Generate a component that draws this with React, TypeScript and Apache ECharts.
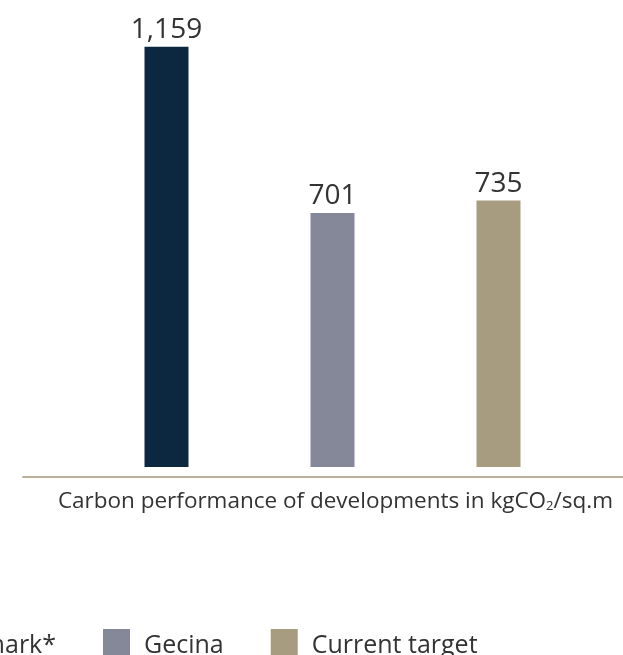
import React, { useEffect, useRef } from "react";
import * as echarts from "echarts";

// Carbon performance of developments (kgCO2/sq.m)
const categories = ["Benchmark*", "Gecina", "Current target"];
const values = [1159, 701, 735];
const colors = ["#0b2840", "#858899", "#a89c80"];
const axisTitle = "Carbon performance of developments in kgCO";

const FONT = "'Open Sans', sans-serif";
const TEXT = "#333";

function measure(text: string, size: number): number {
  const c = document.createElement("canvas").getContext("2d");
  if (!c) return text.length * size * 0.55;
  c.font = `${size}px ${FONT}`;
  return c.measureText(text).width;
}

export default function App() {
  const ref = useRef<HTMLDivElement>(null);

  useEffect(() => {
    if (!ref.current) return;
    const chart = echarts.init(ref.current, null, { renderer: "svg" });

    const legendSize = 25;
    const swatch = 27;
    const textGap = 14;
    const itemGap = 47;
    // anchor the second legend swatch at x = 103
    const firstW = measure(categories[0], legendSize);
    const legendLeft = 103 - itemGap - firstW - swatch - textGap;

    const series = categories.map((name, i) => ({
      name,
      type: "bar",
      stack: "perf",
      xAxisIndex: 0,
      yAxisIndex: 0,
      barWidth: 44,
      itemStyle: { color: colors[i] },
      data: values.map((v, j) => (j === i ? v : "-")),
      label: {
        show: true,
        position: "top",
        distance: 6,
        fontFamily: FONT,
        fontSize: 28,
        color: TEXT,
        formatter: (p: any) => Number(p.value).toLocaleString("en-US"),
      },
    }));

    chart.setOption({
      animation: false,
      textStyle: { fontFamily: FONT },
      grid: [
        { left: 83.5, right: 41.5, top: 32, bottom: 188 },
        { left: 23, right: 0, top: 470, bottom: 178 },
      ],
      xAxis: [
        {
          gridIndex: 0,
          type: "category",
          data: categories,
          axisLine: { show: false },
          axisTick: { show: false },
          axisLabel: { show: false },
        },
        {
          gridIndex: 1,
          type: "category",
          data: [""],
          axisLine: { show: true, lineStyle: { color: "#bab09a", width: 2 } },
          axisTick: { show: false },
          axisLabel: { show: false },
        },
      ],
      yAxis: [
        { gridIndex: 0, type: "value", min: 0, max: 1200, show: false },
        { gridIndex: 1, type: "value", show: false },
      ],
      title: {
        text: axisTitle + "{sub|2}/sq.m",
        right: 10,
        top: 488,
        padding: 0,
        textStyle: {
          fontFamily: FONT,
          fontSize: 22.5,
          fontWeight: "normal",
          color: TEXT,
          rich: {
            sub: {
              fontFamily: FONT,
              fontSize: 13,
              color: TEXT,
              verticalAlign: "bottom",
              padding: [10, 0, 0, 0],
            },
          },
        },
      },
      legend: {
        data: categories,
        left: legendLeft,
        top: 629,
        padding: 0,
        icon: "rect",
        itemWidth: swatch,
        itemHeight: swatch,
        itemGap,
        selectedMode: false,
        textStyle: {
          fontFamily: FONT,
          fontSize: legendSize,
          lineHeight: 24,
          color: TEXT,
          padding: [0, 0, 0, textGap - 5],
        },
      },
      series,
    });

    return () => chart.dispose();
  }, []);

  return (
    <div
      ref={ref}
      style={{ position: "fixed", left: 0, top: 0, width: 623, height: 655 }}
    />
  );
}
